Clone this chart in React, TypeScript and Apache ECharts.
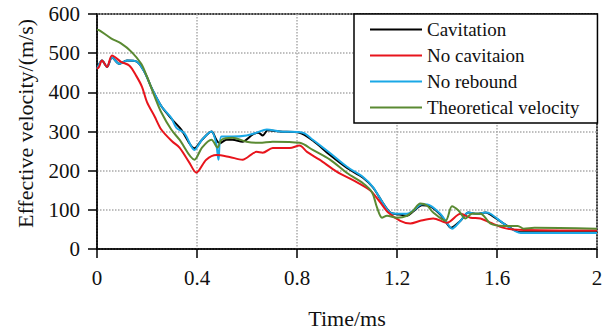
import React, { useEffect, useRef } from "react";
import * as echarts from "echarts";

const xTicks = [0, 0.4, 0.8, 1.2, 1.6, 2];
const yTicks = [0, 100, 200, 300, 400, 500, 600];

const cavT = [0, 0.02, 0.04, 0.06, 0.088, 0.12, 0.16, 0.19, 0.22, 0.257, 0.3, 0.337, 0.39, 0.42, 0.458, 0.478, 0.49, 0.518, 0.542, 0.582, 0.622, 0.645, 0.663, 0.683, 0.731, 0.81, 0.863, 0.932, 1.0, 1.064, 1.104, 1.145, 1.173, 1.21, 1.24, 1.265, 1.3, 1.333, 1.373, 1.4, 1.415, 1.454, 1.486, 1.52, 1.554, 1.574, 1.627, 1.695, 2.0];
const cavV = [460, 481, 465, 489, 473, 481, 478, 452, 409, 365, 331, 305, 257, 279, 300, 278, 270, 279, 279, 274, 292, 297, 290, 303, 300, 297, 277, 240, 207, 182, 157, 116, 93, 88, 85, 96, 112, 109, 88, 65, 54, 72, 93, 90, 93, 88, 65, 43, 43];

const noCavT = [0, 0.008, 0.02, 0.04, 0.06, 0.096, 0.13, 0.157, 0.18, 0.2, 0.23, 0.257, 0.3, 0.33, 0.37, 0.397, 0.437, 0.478, 0.53, 0.582, 0.638, 0.663, 0.703, 0.771, 0.81, 0.84, 0.89, 0.96, 1.024, 1.092, 1.133, 1.165, 1.213, 1.253, 1.293, 1.345, 1.4, 1.454, 1.494, 1.534, 1.574, 1.627, 1.683, 2.0];
const noCavV = [460, 465, 481, 465, 494, 478, 468, 442, 414, 375, 339, 305, 275, 259, 220, 195, 228, 240, 235, 228, 248, 246, 258, 258, 264, 248, 228, 197, 176, 150, 119, 93, 72, 65, 72, 78, 67, 90, 80, 78, 67, 54, 49, 47];

const noRebT = [0, 0.02, 0.04, 0.06, 0.088, 0.12, 0.16, 0.19, 0.22, 0.257, 0.297, 0.317, 0.35, 0.39, 0.42, 0.458, 0.476, 0.486, 0.498, 0.542, 0.598, 0.638, 0.679, 0.731, 0.823, 0.863, 0.932, 1.0, 1.064, 1.104, 1.145, 1.173, 1.21, 1.24, 1.265, 1.3, 1.333, 1.373, 1.4, 1.42, 1.454, 1.486, 1.52, 1.554, 1.574, 1.627, 1.695, 2.0];
const noRebV = [460, 481, 465, 489, 473, 481, 478, 452, 409, 365, 335, 310, 295, 253, 279, 300, 272, 228, 287, 287, 290, 297, 305, 300, 297, 279, 245, 210, 184, 158, 116, 93, 90, 90, 98, 114, 111, 90, 67, 52, 72, 93, 90, 93, 90, 65, 41, 41];

const theoT = [0, 0.008, 0.056, 0.096, 0.137, 0.177, 0.2, 0.23, 0.257, 0.297, 0.33, 0.39, 0.42, 0.458, 0.482, 0.498, 0.542, 0.598, 0.65, 0.703, 0.811, 0.863, 0.932, 1.0, 1.064, 1.1, 1.12, 1.14, 1.16, 1.2, 1.24, 1.265, 1.293, 1.32, 1.345, 1.394, 1.42, 1.446, 1.474, 1.5, 1.534, 1.574, 1.627, 1.683, 1.707, 1.75, 2.0];
const theoV = [560, 559, 538, 525, 504, 473, 440, 390, 349, 305, 279, 228, 259, 279, 259, 279, 284, 274, 271, 274, 271, 253, 228, 194, 168, 145, 106, 80, 85, 80, 85, 98, 116, 111, 93, 72, 109, 98, 78, 90, 90, 65, 59, 59, 52, 54, 52];

const seriesNames = ["Cavitation", "No cavitaion", "No rebound", "Theoretical velocity"];
const seriesColors = ["#000000", "#e8141c", "#1aa8e6", "#5a8a32"];

const zip = (t: number[], v: number[]) => t.map((x, i) => [x, v[i]]);

export default function App() {
  const ref = useRef<HTMLDivElement>(null);
  useEffect(() => {
    if (!ref.current) return;
    const chart = echarts.init(ref.current, null, { renderer: "svg" });
    const font = "Liberation Serif";
    const datasets = [zip(cavT, cavV), zip(noCavT, noCavV), zip(noRebT, noRebV), zip(theoT, theoV)];
    const order = [0, 2, 1, 3];
    chart.setOption({
      animation: false,
      backgroundColor: "#ffffff",
      textStyle: { fontFamily: font },
      grid: {
        left: 97,
        right: 13,
        top: 14,
        bottom: 85,
        show: true,
        borderColor: "#000",
        borderWidth: 1.5,
      },
      legend: {
        data: seriesNames,
        icon: "rect",
        orient: "vertical",
        left: 354,
        top: 14,
        padding: [6, 18, 6, 16],
        itemWidth: 52,
        itemHeight: 2,
        itemGap: 7,
        backgroundColor: "#fff",
        borderColor: "#000",
        borderWidth: 1.5,
        textStyle: { fontFamily: font, fontSize: 19, color: "#111" },
      },
      xAxis: {
        type: "value",
        min: 0,
        max: 2,
        interval: 0.4,
        name: "Time/ms",
        nameLocation: "middle",
        nameGap: 58,
        nameTextStyle: { fontFamily: font, fontSize: 22, color: "#111" },
        axisLine: { show: true, lineStyle: { color: "#000", width: 1.5 } },
        axisTick: { show: true, length: 9, lineStyle: { color: "#000", width: 1.5 } },
        axisLabel: {
          fontFamily: font,
          fontSize: 21,
          color: "#111",
          margin: 18,
          formatter: (v: number) => (xTicks.includes(Math.round(v * 10) / 10) ? String(Math.round(v * 10) / 10) : ""),
        },
        splitLine: { show: true, lineStyle: { color: "#aaa", type: "dotted", width: 1.5 } },
      },
      yAxis: {
        type: "value",
        min: 0,
        max: 600,
        interval: 100,
        name: "Effective velocity/(m/s)",
        nameLocation: "middle",
        nameGap: 61,
        nameTextStyle: { fontFamily: font, fontSize: 22, color: "#111", padding: [0, 0, 0, 16] },
        axisLine: { show: true, lineStyle: { color: "#000", width: 1.5 } },
        axisTick: { show: true, length: 9, lineStyle: { color: "#000", width: 1.5 } },
        axisLabel: {
          fontFamily: font,
          fontSize: 21,
          color: "#111",
          margin: 17,
          formatter: (v: number) => (yTicks.includes(v) ? String(v) : ""),
        },
        splitLine: { show: true, lineStyle: { color: "#aaa", type: "dotted", width: 1.5 } },
      },
      series: order.map((i) => ({
        name: seriesNames[i],
        type: "line",
        data: datasets[i],
        symbol: "none",
        showSymbol: false,
        smooth: 0.3,
        color: seriesColors[i],
        lineStyle: { color: seriesColors[i], width: 2 },
      })),
    });
    return () => chart.dispose();
  }, []);
  return <div ref={ref} style={{ position: "fixed", left: 0, top: 0, width: 610, height: 334 }} />;
}
